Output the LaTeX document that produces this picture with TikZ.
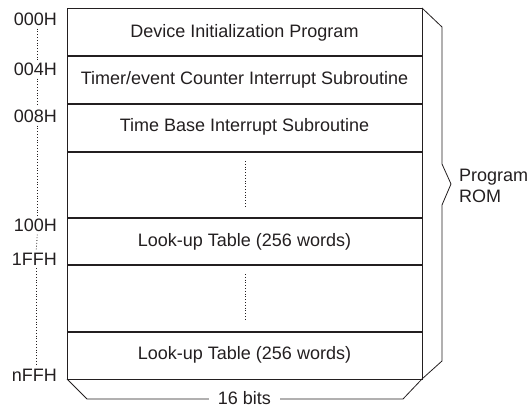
\documentclass[tikz,border=0pt]{standalone}
\usepackage{fontspec}
\setmainfont{Liberation Sans}
\usepackage{tikz}
\usepackage{xcolor}
\definecolor{inkgray}{HTML}{231F20}

\begin{document}
\begin{tikzpicture}[x=1pt,y=-1pt,inkgray,
  font=\fontsize{18}{21}\selectfont,
  rowline/.style={line width=1.2pt},
  addr/.style={anchor=east,inner sep=3pt},
  addrdots/.style={dotted,line width=0.8pt}]
\useasboundingbox (0,0) rectangle (531,407);
% Memory map: outer frame and the row separators.
\draw[line width=1pt] (67,8) rectangle (422,379);
\foreach \y in {56,104,152,218,265,332}
  \draw[rowline] (67,\y)--(422,\y);
% Row contents.
\node (init) at (244.5,33) {Device Initialization Program};
\node (tmr) at (244.5,80) {Timer/event Counter Interrupt Subroutine};
\node (tbase) at (244.5,127) {Time Base Interrupt Subroutine};
\node (lutA) at (244.5,242) {Look-up Table (256 words)};
\node (lutB) at (244.5,355) {Look-up Table (256 words)};
\draw[addrdots] (245,161)--(245,207);
\draw[addrdots] (245,274)--(245,321);
% Depth of the block, with the brace tip on the right side.
\draw[line width=0.8pt] (422,8)--(442,27)--(442,164)--(451,184)--(442,205)--(442,361)--(422,379);
\node[anchor=west,align=left,inner sep=0pt] (rom) at (459,186) {Program\\ROM};
\node[fill=white,inner xsep=9pt,inner ysep=2pt] (bits) at (244.5,398) {16 bits};
\coordinate (bitsL) at (87,399);
\coordinate (bitsR) at (403,399);
\draw[line width=0.8pt] (67,379)--(bitsL)--(bits.west |- bitsL);
\draw[line width=0.8pt] (bits.east |- bitsR)--(bitsR)--(422,379);
% Addresses on the left.
\node[addr] (a000) at (60,19) {000H};
\node[addr] (a004) at (60,69) {004H};
\node[addr] (a008) at (60,116) {008H};
\node[addr] (a100) at (60,225) {100H};
\node[addr] (a1FF) at (60,259) {1FFH};
\node[addr] (anFF) at (60,375) {nFFH};
\draw[addrdots] ([xshift=2pt]a000.south)--([xshift=2pt]a004.north);
\draw[addrdots] ([xshift=2pt]a004.south)--([xshift=2pt]a008.north);
\draw[addrdots] ([xshift=2pt]a008.south)--([xshift=2pt]a100.north);
\draw[addrdots] ([xshift=2pt]a100.south)--([xshift=2pt]a1FF.north);
\draw[addrdots] ([xshift=2pt]a1FF.south)--([xshift=2pt]anFF.north);
\end{tikzpicture}
\end{document}
